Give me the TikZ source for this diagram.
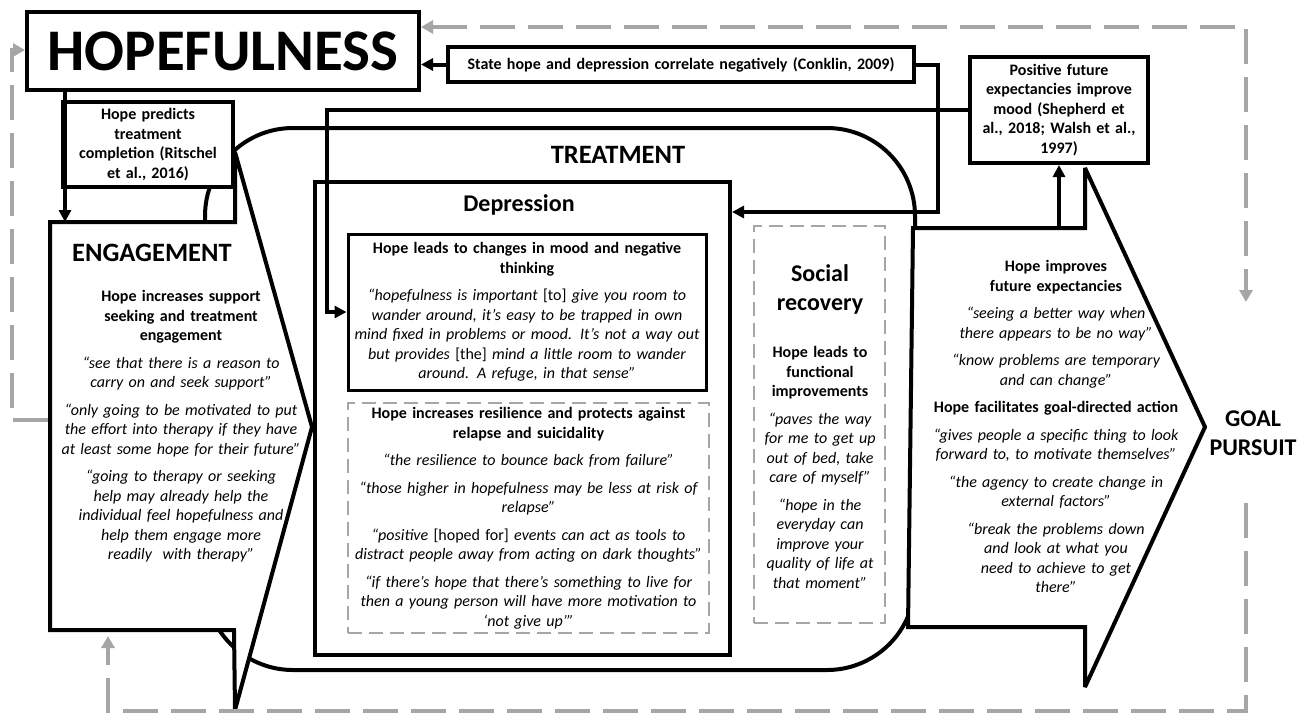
\documentclass[tikz,border=0pt]{standalone}
\usepackage{fontspec}
\setmainfont{Carlito}
\usetikzlibrary{arrows.meta,calc}
\definecolor{greyc}{HTML}{A6A6A6}
\begin{document}
\begin{tikzpicture}[x=1pt,y=-1pt,
  blk/.style={draw=black,line width=4pt,fill=white,miter limit=3},
  blkthin/.style={draw=black,line width=3pt,fill=white},
  gbox/.style={draw=greyc,line width=2.5pt,dash pattern=on 14pt off 7pt},
  conn/.style={draw=black,line width=4pt,-{Triangle[length=12pt,width=12pt]}},
  gconn/.style={draw=greyc,line width=4pt,dash pattern=on 35pt off 13pt},
  gtip/.style={-{Triangle[length=12pt,width=13pt]}},
  txt/.style={font=\fontsize{16}{19.5}\selectfont,align=center,inner sep=0pt},
  headA/.style={font=\fontsize{26.5}{29}\selectfont\bfseries,inner sep=0pt},
  headB/.style={font=\fontsize{24}{29}\selectfont\bfseries,inner sep=0pt},
]
\useasboundingbox (0,0) rectangle (1306,716);

% ---- TREATMENT container
\node[blk, rounded corners=88pt, minimum width=710pt, minimum height=542pt] (treat) at (560,399) {};

% ---- GOAL PURSUIT callout
\draw[blk] (913,228) -- (1085,228) -- (1085,168) -- (1205,427) -- (1085,687) -- (1085,627) -- (908,627) -- cycle;
\coordinate (goalTop) at (1059,228);

% ---- Depression box and inner boxes
\node[blk, minimum width=415pt, minimum height=473pt] (dep) at (522.5,418.5) {};
\node[blkthin, minimum width=358pt, minimum height=156pt] (hl) at (527,312) {};
\node[gbox, minimum width=361pt, minimum height=230pt] (res) at (528.5,518) {};
\node[gbox, minimum width=131pt, minimum height=397pt] (soc) at (819.5,424.5) {};

% ---- ENGAGEMENT callout
\draw[blk] (50,222) -- (235,222) -- (235,152) -- (312,427) -- (235,710) -- (234,630) -- (50,630) -- cycle;
\coordinate (engTop) at (65,222);
\coordinate (engLeft) at (48,420);
\coordinate (engBot) at (108,636);

% ---- top boxes
\node[blk, minimum width=170pt, minimum height=85pt] (pred) at (148,144.5) {};
\node[blk, minimum width=392pt, minimum height=78pt, inner sep=0pt,
      font=\fontsize{59}{60}\selectfont\bfseries] (hope) at (223,51) {HOPEFULNESS};
\node[blk, minimum width=466pt, minimum height=35pt] (state) at (681,64.5) {};
\node[blk, minimum width=178pt, minimum height=106pt] (pos) at (1059,110) {};

% ---- texts
\node[txt, text width=200pt, font=\fontsize{16}{19.5}\selectfont\bfseries] at (pred.center)
  {Hope predicts\\ treatment\\ completion (Ritschel\\ et al., 2016)};
\node[txt, text width=500pt, font=\fontsize{16}{19.5}\selectfont\bfseries] at (state.center)
  {State hope and depression correlate negatively (Conklin, 2009)};
\node[txt, text width=220pt, font=\fontsize{16}{19.5}\selectfont\bfseries] at (pos.center)
  {Positive future\\ expectancies improve\\ mood (Shepherd et\\ al., 2018; Walsh et al.,\\ 1997)};

\node[headA, anchor=west] at (72,253) {ENGAGEMENT};
\node[txt, text width=260pt, anchor=north] at (181,288)
  {\strut\textbf{Hope increases support\\ seeking and treatment\\ engagement}\\[8pt]
   \textit{“see that there is a reason to\\ carry on and seek support”}\\[8pt]
   \textit{“only going to be motivated to put\\ the effort into therapy if they have\\ at least some hope for their future”}\\[8pt]
   \textit{“going to therapy or seeking\\ help may already help the\\ individual feel hopefulness and\\ help them engage more\\ readily\ \ with therapy”}};

\node[headA, anchor=base] at (618,163.5) {TREATMENT};
\node[headB, anchor=base] at (519,211) {Depression};

\node[txt, text width=400pt] at (hl.center)
  {\textbf{Hope leads to changes in mood and negative\\ thinking}\\[8pt]
   \textit{“hopefulness is important} [to] \textit{give you room to}\\
   \textit{wander around, it's easy to be trapped in own}\\
   \textit{mind fixed in problems or mood. It's not a way out}\\
   \textit{but provides} [the] \textit{mind a little room to wander}\\
   \textit{around. A refuge, in that sense”}};

\node[txt, text width=420pt] at (res.center)
  {\textbf{Hope increases resilience and protects against\\ relapse and suicidality}\\[8pt]
   \textit{“the resilience to bounce back from failure”}\\[8pt]
   \textit{“those higher in hopefulness may be less at risk of\\ relapse”}\\[8pt]
   \textit{“positive} [hoped for] \textit{events can act as tools to\\ distract people away from acting on dark thoughts”}\\[8pt]
   \textit{“if there’s hope that there’s something to live for\\ then a young person will have more motivation to\\ ‘not give up’”}};

\node[headB, text width=150pt, align=center, anchor=north] at (820,261) {\strut Social\\ recovery};
\node[txt, text width=160pt, anchor=north] at (820,344)
  {\strut\textbf{Hope leads to\\ functional\\ improvements}\\[8pt]
   \textit{“paves the way\\ for me to get up\\ out of bed, take\\ care of myself”}\\[8pt]
   \textit{“hope in the\\ everyday can\\ improve your\\ quality of life at\\ that moment”}};

\node[txt, text width=300pt, anchor=north] at (1056,258)
  {\strut\textbf{Hope improves\\ future expectancies}\\[8pt]
   \textit{“seeing a better way when\\ there appears to be no way”}\\[8pt]
   \textit{“know problems are temporary\\ and can change”}\\[8pt]
   \textbf{Hope facilitates goal-directed action}\\[8pt]
   \textit{“gives people a specific thing to look\\ forward to, to motivate themselves”}\\[8pt]
   \textit{“the agency to create change in\\ external factors”}\\[8pt]
   \textit{“break the problems down\\ and look at what you\\ need to achieve to get\\ there”}};

\node[headB, text width=120pt, align=center, anchor=north] (goaltxt) at (1253,406) {\strut GOAL\\ PURSUIT};

% ---- black connectors
\draw[conn] (state.west) -- (state.west -| hope.east);
\draw[conn] (state.east) -- (938,64.5) -- (938,212) -- (dep.east |- 938,212);
\draw[conn] (pos.west) -- (327,110) -- (327,312) -- (hl.west);
\draw[conn] (hope.south -| engTop) -- (engTop);
\draw[conn] (goalTop) -- (pos.south);

% ---- grey dashed loops
\coordinate (gTopEnd) at (1246,302);
\coordinate (gBotStart) at (1246,503);
\draw[gconn, {Triangle[length=12pt,width=13pt]}-{Triangle[length=12pt,width=13pt]}]
  (hope.east |- 0,27) -- (1246,27) -- (gTopEnd);
\draw[gconn, gtip] (gBotStart) -- (1246,711) -- (108,711) -- (engBot);
\draw[gconn, gtip] (engLeft) -- (12,420) -- (12,50) -- (hope.west |- 0,50);
\end{tikzpicture}
\end{document}
